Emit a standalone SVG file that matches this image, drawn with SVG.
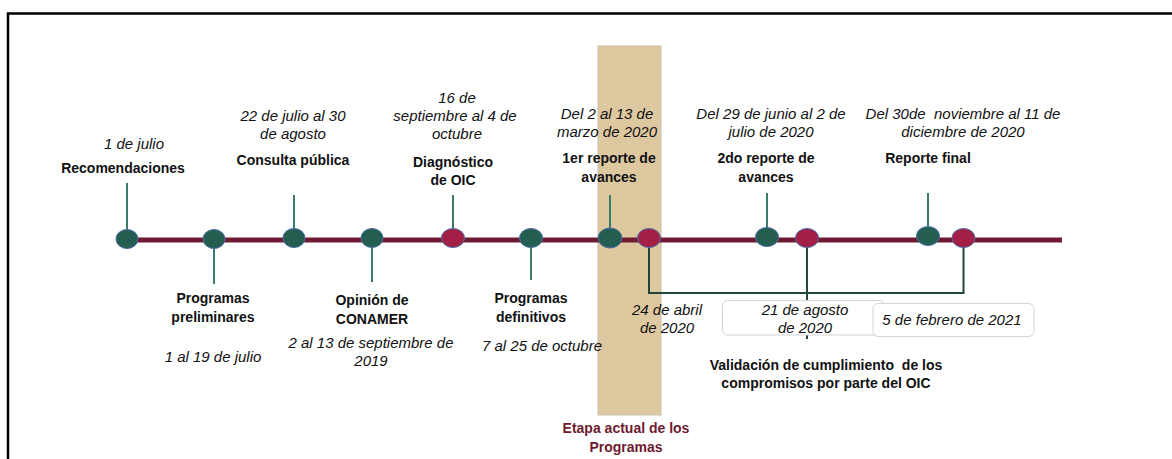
<svg xmlns="http://www.w3.org/2000/svg" width="1172" height="459" viewBox="0 0 1172 459">
<style>
.b{font-family:"Liberation Sans",Arial,sans-serif;font-weight:bold;font-size:14px;fill:#111;text-anchor:middle}
.i{font-family:"Liberation Sans",Arial,sans-serif;font-style:italic;font-size:15px;fill:#111;text-anchor:middle}
.pre{white-space:pre}
.g{fill:#245E50;stroke:#4B6BA8;stroke-width:1}
.r{fill:#A31F45;stroke:#4B6BA8;stroke-width:1}
.stem{stroke:#3D7A6E;stroke-width:2;fill:none}
.conn{stroke:#23463C;stroke-width:2;fill:none}
.box{fill:#fff;stroke:#D4D4D4;stroke-width:1}
</style>
<rect width="1172" height="459" fill="#fff"/>
<path d="M8 459 V13.5 H1172" fill="none" stroke="#000" stroke-width="2.5"/>
<rect id="etapa-actual" x="598" y="46" width="63" height="369" fill="#DEC8A0" stroke="#C8C0B0" stroke-width="1"/>
<g id="connectors">
<line x1="127" y1="240" x2="1062" y2="240" stroke="#6E1A30" stroke-width="5"/>
<line class="stem" x1="127" y1="183" x2="127" y2="238"/>
<line class="stem" x1="214" y1="238" x2="214" y2="284"/>
<line class="stem" x1="294" y1="195" x2="294" y2="238"/>
<line class="stem" x1="372" y1="238" x2="372" y2="282"/>
<line class="stem" x1="453" y1="195" x2="453" y2="238"/>
<line class="stem" x1="531" y1="238" x2="531" y2="280"/>
<line class="stem" x1="610" y1="195" x2="610" y2="238"/>
<line class="stem" x1="767" y1="193" x2="767" y2="238"/>
<line class="stem" x1="928" y1="193" x2="928" y2="238"/>
<path class="conn" d="M649 238 V293 H963.5 V238"/>
<line class="conn" x1="807" y1="238" x2="807" y2="339"/>
</g>
<g id="n1"><ellipse class="g" cx="127" cy="239" rx="11" ry="9.5"/>
<text class="i" x="134" y="149">1 de julio</text>
<text class="b" x="123" y="173">Recomendaciones</text></g>
<g id="n2"><ellipse class="g" cx="214" cy="239" rx="11" ry="9.5"/>
<text class="b" x="213" y="303">Programas</text>
<text class="b" x="213" y="322">preliminares</text>
<text class="i" x="213" y="362">1 al 19 de julio</text></g>
<g id="n3"><ellipse class="g" cx="294" cy="238" rx="11" ry="9.5"/>
<text class="i" x="293" y="121">22 de julio al 30</text>
<text class="i" x="293" y="139">de agosto</text>
<text class="b" x="293" y="165">Consulta pública</text></g>
<g id="n4"><ellipse class="g" cx="372" cy="238" rx="11" ry="9.5"/>
<text class="b" x="372" y="305">Opinión de</text>
<text class="b" x="372" y="324">CONAMER</text>
<text class="i" x="371" y="348">2 al 13 de septiembre de</text>
<text class="i" x="371" y="366">2019</text></g>
<g id="n5"><ellipse class="r" cx="453" cy="238" rx="11.5" ry="9.5"/>
<text class="i" x="457" y="103">16 de</text>
<text class="i" x="455" y="121">septiembre al 4 de</text>
<text class="i" x="457" y="139">octubre</text>
<text class="b" x="453" y="167">Diagnóstico</text>
<text class="b" x="453" y="185">de OIC</text></g>
<g id="n6"><ellipse class="g" cx="531" cy="238" rx="11.5" ry="9.5"/>
<text class="b" x="531" y="303">Programas</text>
<text class="b" x="531" y="322">definitivos</text>
<text class="i" x="542" y="351">7 al 25 de octubre</text></g>
<g id="n7"><ellipse class="g" cx="610" cy="238" rx="12" ry="10"/>
<text class="i" x="607" y="119">Del 2 al 13 de</text>
<text class="i" x="607" y="137">marzo de 2020</text>
<text class="b" x="609" y="163">1er reporte de</text>
<text class="b" x="609" y="182">avances</text></g>
<g id="n8"><ellipse class="r" cx="649" cy="238" rx="11.5" ry="9.5"/>
<text class="i" x="667" y="315">24 de abril</text>
<text class="i" x="667" y="333">de 2020</text></g>
<g id="n9"><ellipse class="g" cx="767" cy="237" rx="11.5" ry="9.5"/>
<text class="i" x="771" y="119">Del 29 de junio al 2 de</text>
<text class="i" x="771" y="137">julio de 2020</text>
<text class="b" x="766" y="163">2do reporte de</text>
<text class="b" x="766" y="182">avances</text></g>
<g id="n10"><ellipse class="r" cx="807" cy="238" rx="11.5" ry="9.5"/>
<rect class="box" x="722.5" y="300.5" width="162" height="34.5" rx="5"/>
<text class="i" x="805" y="315">21 de agosto</text>
<text class="i" x="805" y="333">de 2020</text>
<text class="b pre" x="826" y="370">Validación de cumplimiento  de los</text>
<text class="b" x="826" y="388">compromisos por parte del OIC</text></g>
<g id="n11"><ellipse class="g" cx="928" cy="236" rx="11.5" ry="9.5"/>
<text class="i pre" x="963" y="119">Del 30de  noviembre al 11 de</text>
<text class="i" x="963" y="137">diciembre de 2020</text>
<text class="b" x="928" y="163">Reporte final</text></g>
<g id="n12"><ellipse class="r" cx="963.5" cy="238" rx="11.5" ry="9.5"/>
<rect class="box" x="873" y="303.5" width="161" height="33" rx="5"/>
<text class="i" x="952" y="325">5 de febrero de 2021</text></g>
<g id="etapa-label">
<text class="b" x="626" y="433" style="fill:#6E1A30">Etapa actual de los</text>
<text class="b" x="626" y="452" style="fill:#6E1A30">Programas</text></g>
</svg>
